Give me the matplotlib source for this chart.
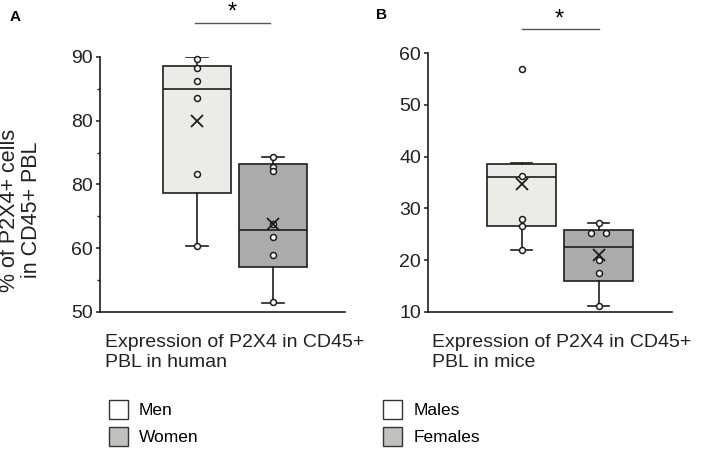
import matplotlib
matplotlib.use('Agg')
import matplotlib.pyplot as plt
from matplotlib.patches import Patch

plt.rcParams['font.family'] = ['Liberation Sans', 'DejaVu Sans']

# values
human_men = [89.7, 88.2, 86.2, 83.5, 71.6, 60.4]
human_women = [74.3, 72.8, 72.1, 63.8, 61.7, 59.0, 51.5]
human_box = [  # q1, median, q3, whisker low, whisker high, mean
    [68.7, 84.9, 88.6, 60.4, 89.95, 80.0],
    [57.1, 62.9, 73.2, 51.4, 74.3, 63.8],
]
mice_males = [57.0, 36.2, 27.9, 26.6, 21.9]
mice_females = [27.1, 25.2, 25.2, 20.0, 17.5, 11.2]
mice_box = [
    [26.6, 36.1, 38.5, 21.9, 38.8, 34.8],
    [15.9, 22.55, 25.9, 11.2, 27.1, 21.0],
]
human_ticks = [50, 60, 70, 80, 90]
human_ticklabels = ['50', '60', '80', '80', '90']   # as printed in the original
mice_ticks = [10, 20, 30, 40, 50, 60]
human_legend = ['Men', 'Women']
mice_legend = ['Males', 'Females']
xlabel_human = 'Expression of P2X4 in CD45+\nPBL in human'
xlabel_mice = 'Expression of P2X4 in CD45+\nPBL in mice'
ylabel = '% of P2X4+ cells\nin CD45+ PBL'

box_colors = ['#ebebe7', '#ababab']
legend_colors = ['white', '#c0c0bc']
edge = '#1e1e1e'


def draw_panel(ax, box, points, ylim, ticks, ticklabels, xlim, jitter):
    stats = []
    for b in box:
        stats.append(dict(q1=b[0], med=b[1], q3=b[2], whislo=b[3], whishi=b[4],
                          mean=b[5], fliers=[]))
    bp = ax.bxp(stats, positions=[1, 2], widths=0.9, patch_artist=True,
                showmeans=False, showfliers=False, capwidths=0.28,
                boxprops=dict(edgecolor=edge, linewidth=1.2),
                medianprops=dict(color=edge, linewidth=1.2),
                whiskerprops=dict(color=edge, linewidth=1.2),
                capprops=dict(color=edge, linewidth=1.2))
    for patch, c in zip(bp['boxes'], box_colors):
        patch.set_facecolor(c)
    for i, pts in enumerate(points):
        xs = [i + 1 + j for j in jitter[i]]
        ax.plot(xs, pts, 'o', ms=4.3, mfc='white', mec=edge, mew=1.1,
                clip_on=False, zorder=4)
        ax.plot([i + 1], [box[i][5]], 'x', ms=9, mew=1.3, color=edge,
                zorder=5)
    ax.set_ylim(ylim)
    ax.set_xlim(xlim)
    ax.set_yticks(ticks)
    ax.set_yticklabels(ticklabels, fontsize=14, color='#222222')
    ax.set_xticks([])
    for s in ['top', 'right']:
        ax.spines[s].set_visible(False)
    for s in ['left', 'bottom']:
        ax.spines[s].set_color(edge)
        ax.spines[s].set_linewidth(1.2)
    ax.tick_params(axis='y', length=3, width=1.1, color=edge, pad=2)


fig = plt.figure(figsize=(7.1, 4.53), dpi=100)

ax1 = fig.add_axes([0.1408, 0.3113, 0.345, 0.563])
draw_panel(ax1, human_box, [human_men, human_women], (50, 90), human_ticks,
           human_ticklabels, (-0.276, 2.947),
           [[0] * len(human_men), [0] * len(human_women)])
ax1.set_yticks([55, 65, 75, 85], minor=True)
ax1.tick_params(axis='y', which='minor', length=2, width=1.0, color=edge)

ax2 = fig.add_axes([0.6028, 0.3113, 0.3437, 0.5717])
draw_panel(ax2, mice_box, [mice_males, mice_females], (10, 60), mice_ticks,
           [str(t) for t in mice_ticks], (-0.217, 2.952),
           [[0] * len(mice_males), [0, -0.1, 0.1, 0, 0, 0]])

# significance bars
ax1.plot([0.388, 0.694], [1.133, 1.133], color='#555555', lw=1.0,
         transform=ax1.transAxes, clip_on=False)
ax1.text(0.539, 1.175, '*', transform=ax1.transAxes, ha='center', va='center',
         fontsize=17)
ax2.plot([0.385, 0.70], [1.093, 1.093], color='#555555', lw=1.0,
         transform=ax2.transAxes, clip_on=False)
ax2.text(0.537, 1.13, '*', transform=ax2.transAxes, ha='center', va='center',
         fontsize=17)

# panel letters
fig.text(0.013, 0.962, 'A', fontsize=11, fontweight='bold', va='center')
fig.text(0.529, 0.966, 'B', fontsize=11, fontweight='bold', va='center')

fig.text(0.029, 0.536, ylabel, rotation=90, ha='center', va='center',
         fontsize=15.5, color='#222222', linespacing=1.05)

fig.text(0.148, 0.262, xlabel_human, ha='left', va='top', fontsize=14,
         color='#222222', linespacing=1.2)
fig.text(0.608, 0.262, xlabel_mice, ha='left', va='top', fontsize=14,
         color='#222222', linespacing=1.2)

for names, x in [(human_legend, 0.153), (mice_legend, 0.540)]:
    handles = [Patch(facecolor=c, edgecolor='#333333', linewidth=1.0)
               for c in legend_colors]
    fig.legend(handles, names, loc='upper left', bbox_to_anchor=(x, 0.118),
               frameon=False, fontsize=12.5, handlelength=1.1,
               handleheight=1.35, handletextpad=0.65, labelspacing=0.45,
               borderpad=0, borderaxespad=0)

fig.savefig('out.png', dpi=100)
